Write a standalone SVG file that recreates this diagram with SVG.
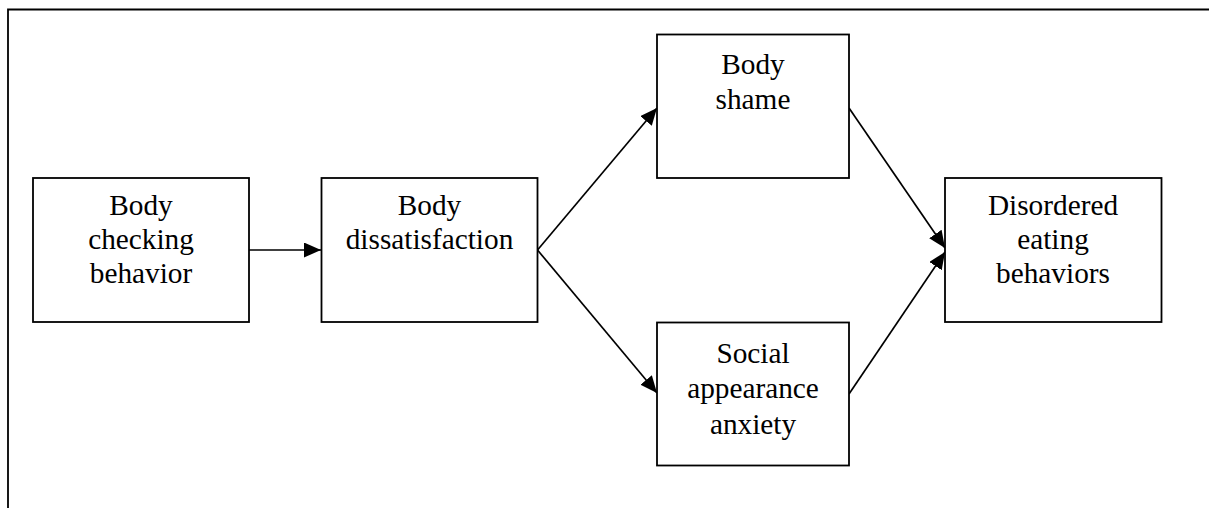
<svg xmlns="http://www.w3.org/2000/svg" width="1209" height="508" viewBox="0 0 1209 508">
  <style>
    .box { fill: #ffffff; stroke: #000000; stroke-width: 1.8; }
    .frame { fill: none; stroke: #000000; stroke-width: 1.8; }
    .edge { fill: none; stroke: #000000; stroke-width: 1.7; marker-end: url(#head); }
    .label { font-family: "Liberation Serif", "Times New Roman", serif; font-size: 29.3px; fill: #000000; text-anchor: middle; }
  </style>
  <defs>
    <marker id="head" markerUnits="userSpaceOnUse" markerWidth="17" markerHeight="15" refX="17" refY="7.5" orient="auto">
      <path d="M0,0 L17,7.5 L0,15 Z" fill="#000000"/>
    </marker>
  </defs>
  <rect width="1209" height="508" fill="#ffffff"/>

  <!-- page frame: top and left edges -->
  <path class="frame" d="M8,508 L8,9.5 L1209,9.5"/>

  <g id="connectors">
    <line class="edge" x1="249" y1="250" x2="321" y2="250"/>
    <line class="edge" x1="537.5" y1="250" x2="657" y2="108"/>
    <line class="edge" x1="537.5" y1="250" x2="657" y2="393"/>
    <line class="edge" x1="849" y1="108" x2="945" y2="248"/>
    <line class="edge" x1="849" y1="394" x2="945" y2="252"/>
  </g>

  <g id="body-checking">
    <rect class="box" x="33" y="178" width="216" height="144"/>
    <text class="label" x="141" y="215">Body</text>
    <text class="label" x="141" y="249">checking</text>
    <text class="label" x="141" y="283">behavior</text>
  </g>

  <g id="body-dissatisfaction">
    <rect class="box" x="321.5" y="178" width="216" height="144"/>
    <text class="label" x="429.5" y="215">Body</text>
    <text class="label" x="429.5" y="249">dissatisfaction</text>
  </g>

  <g id="body-shame">
    <rect class="box" x="657" y="34.5" width="192" height="143.5"/>
    <text class="label" x="753" y="74">Body</text>
    <text class="label" x="753" y="109">shame</text>
  </g>

  <g id="social-appearance-anxiety">
    <rect class="box" x="657" y="322.5" width="192" height="143"/>
    <text class="label" x="753" y="363">Social</text>
    <text class="label" x="753" y="398">appearance</text>
    <text class="label" x="753" y="434">anxiety</text>
  </g>

  <g id="disordered-eating">
    <rect class="box" x="945" y="178" width="216.5" height="144"/>
    <text class="label" x="1053" y="215">Disordered</text>
    <text class="label" x="1053" y="249">eating</text>
    <text class="label" x="1053" y="283">behaviors</text>
  </g>
</svg>
